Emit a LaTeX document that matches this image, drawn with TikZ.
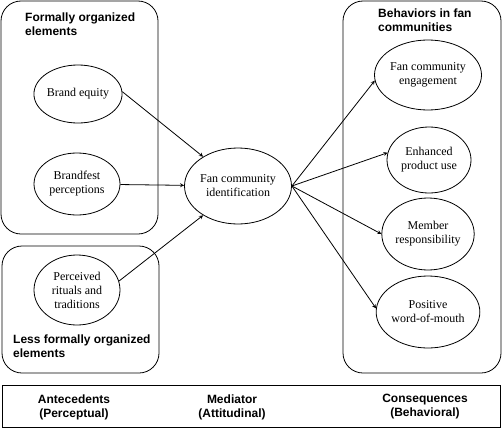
\documentclass[tikz,border=0pt]{standalone}
\usepackage{fontspec}
\setmainfont{Liberation Serif}
\setsansfont{Liberation Sans}
\usetikzlibrary{arrows,shapes.geometric}

\tikzset{
  construct/.style={ellipse,draw,line width=0.8pt,inner sep=0pt,align=center,
    font=\fontsize{12}{14}\selectfont},
  group/.style={draw,line width=0.8pt,rounded corners=20pt},
  heading/.style={anchor=west,inner sep=0pt,align=left,
    font=\sffamily\bfseries\fontsize{12}{14}\selectfont},
  stage/.style={inner sep=0pt,align=center,
    font=\sffamily\bfseries\fontsize{12}{14}\selectfont},
  path/.style={->,>=stealth,line width=0.8pt}
}

\begin{document}
\begin{tikzpicture}[x=1pt,y=-1pt]
            \useasboundingbox (0,0) rectangle (502,428);

            % groups
            \draw[group] (1,1) rectangle (158,234);
            \draw[group] (2,246) rectangle (159,373);
            \draw[group] (343,1) rectangle (501,373);
            \draw[line width=0.8pt] (2,385) rectangle (500,427);

            \node[heading] (formal) at (25,24) {Formally organized\\elements};
            \node[heading] (lessformal) at (13,346) {Less formally organized\\elements};
            \node[heading] (behaviors) at (378,20) {Behaviors in fan\\communities};

            % constructs
            \node[construct,minimum width=88pt,minimum height=58pt] (equity) at (78,94) {Brand equity};
            \node[construct,minimum width=86pt,minimum height=62pt] (brandfest) at (77,184) {Brandfest\\perceptions};
            \node[construct,minimum width=86pt,minimum height=70pt] (rituals) at (77,290) {Perceived\\rituals and\\traditions};

            \node[construct,minimum width=104pt,minimum height=76pt] (identification) at (238,186) {Fan community\\identification};

            \node[construct,minimum width=86pt,minimum height=70pt] (engagement) at (428,75) {Fan community\\engagement};
            \node[construct,minimum width=84pt,minimum height=66pt] (productuse) at (429,160) {Enhanced\\product use};
            \node[construct,minimum width=84pt,minimum height=72pt] (responsibility) at (428,234) {Member\\responsibility};
            \node[construct,minimum width=86pt,minimum height=72pt] (wom) at (428,312) {Positive\\word-of-mouth};

            % paths
            \draw[path] (equity.3) -- (identification.140);
            \draw[path] (brandfest) -- (identification);
            \draw[path] (rituals.12) -- (identification.220);
            \draw[path] (identification.east) -- (engagement.186);
            \draw[path] (identification.east) -- (productuse.170);
            \draw[path] (identification.east) -- (responsibility.180);
            \draw[path] (identification.east) -- (wom.176);

            % stages
            \node[stage] (antecedents) at (74,407) {Antecedents\\(Perceptual)};
            \node[stage] (mediator) at (232,407) {Mediator\\(Attitudinal)};
            \node[stage] (consequences) at (425,407) {Consequences\\(Behavioral)};
\end{tikzpicture}
\end{document}
